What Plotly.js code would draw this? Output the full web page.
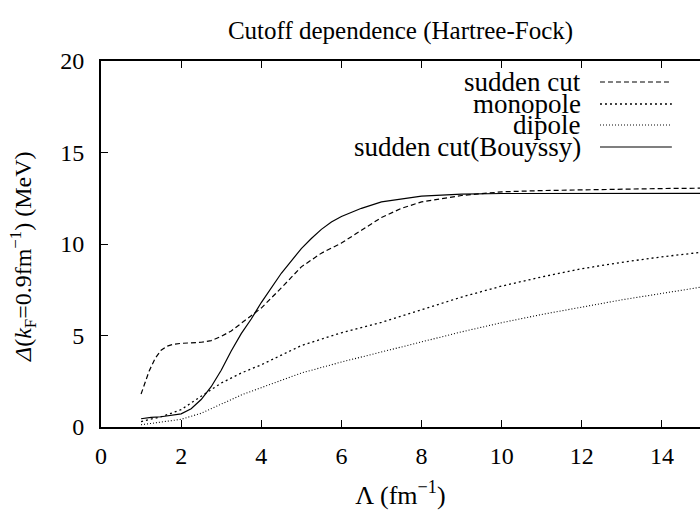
<!DOCTYPE html>
<html>
<head>
<meta charset="utf-8">
<script src="https://cdn.plot.ly/plotly-3.0.1.min.js"></script>
<style>html,body{margin:0;padding:0;background:#fff;}#chart{width:700px;height:514px;}</style>
</head>
<body>
<div id="chart"></div>
<script>
// Data
var seriesNames = ["sudden cut", "monopole", "dipole", "sudden cut(Bouyssy)"];

var suddenX = [1, 1.1, 1.2, 1.35, 1.5, 1.65, 1.8, 2.0, 2.25, 2.5, 2.75, 3.0, 3.25, 3.5, 3.75, 4.0, 4.5, 5.0, 5.5, 6.0, 6.5, 7.0, 7.5, 8.0, 9, 10, 11, 12, 13, 14, 15];
var suddenY = [1.8, 2.45, 3.05, 3.75, 4.2, 4.42, 4.52, 4.57, 4.6, 4.63, 4.72, 4.95, 5.25, 5.65, 6.05, 6.5, 7.6, 8.75, 9.5, 10.05, 10.75, 11.45, 11.95, 12.3, 12.65, 12.85, 12.92, 12.97, 13.0, 13.03, 13.05];

var monoX = [1, 1.25, 1.5, 1.75, 2, 2.5, 3, 3.5, 4, 5, 6, 7, 8, 9, 10, 11, 12, 13, 14, 15];
var monoY = [0.3, 0.42, 0.56, 0.75, 0.95, 1.68, 2.4, 2.95, 3.4, 4.45, 5.15, 5.72, 6.42, 7.1, 7.7, 8.2, 8.65, 9.0, 9.3, 9.55];

var dipoleX = [1, 1.5, 2, 2.5, 3, 3.5, 4, 5, 6, 7, 8, 9, 10, 11, 12, 13, 14, 15];
var dipoleY = [0.12, 0.25, 0.42, 0.75, 1.25, 1.75, 2.15, 2.95, 3.55, 4.1, 4.65, 5.2, 5.7, 6.15, 6.55, 6.95, 7.3, 7.65];

var bouyX = [1, 1.25, 1.5, 1.75, 2, 2.25, 2.5, 2.75, 3, 3.25, 3.5, 3.75, 4, 4.5, 5, 5.25, 5.5, 5.75, 6, 6.5, 7, 8, 9, 10, 11, 12, 13, 14, 15];
var bouyY = [0.45, 0.53, 0.56, 0.62, 0.72, 1.0, 1.5, 2.2, 3.1, 4.15, 5.1, 5.9, 6.8, 8.4, 9.75, 10.3, 10.8, 11.2, 11.5, 11.95, 12.3, 12.62, 12.72, 12.76, 12.77, 12.77, 12.77, 12.77, 12.77];

var xTicks = [0, 2, 4, 6, 8, 10, 12, 14];
var yTicks = [0, 5, 10, 15, 20];

var FONT = "Liberation Serif";
var dashes = ["5px,3px", "2px,3px", "1px,2px", "solid"];
var widths = [1.2, 1.3, 1.1, 1.2];

var xs = [suddenX, monoX, dipoleX, bouyX];
var ys = [suddenY, monoY, dipoleY, bouyY];

var traces = seriesNames.map(function (n, i) {
  return {
    x: xs[i], y: ys[i], name: n, type: "scatter", mode: "lines",
    line: {color: "#000", width: widths[i], dash: dashes[i]},
    showlegend: false, hoverinfo: "x+y+name"
  };
});

// manual legend (text on the left, sample line on the right), as in the reference
var legRowY = [0.9426, 0.8825, 0.8251, 0.765];
var annotations = [];
var shapes = [];
seriesNames.forEach(function (n, i) {
  annotations.push({
    xref: "paper", yref: "paper", x: 0.8047, y: legRowY[i],
    xanchor: "right", yanchor: "middle", showarrow: false,
    text: n, font: {family: FONT, size: 27, color: "#000"}
  });
  shapes.push({
    type: "line", xref: "paper", yref: "paper",
    x0: 0.833, x1: 0.953, y0: legRowY[i], y1: legRowY[i],
    line: {color: "#000", width: widths[i], dash: dashes[i]}
  });
});
annotations.push({
  xref: "paper", yref: "paper", x: -0.13, y: 0.465,
  xanchor: "center", yanchor: "middle", showarrow: false, textangle: -90,
  text: "<i>Δ</i>(<i>k</i><sub>F</sub>=0.9fm<sup>−1</sup>) (MeV)",
  font: {family: FONT, size: 24, color: "#000"}
});

var layout = {
  width: 700, height: 514,
  margin: {l: 101, r: 0, t: 61, b: 87, pad: 0},
  paper_bgcolor: "#fff", plot_bgcolor: "#fff",
  font: {family: FONT, size: 24, color: "#000"},
  title: {text: "Cutoff dependence (Hartree-Fock)", x: 0.5, xref: "paper", xanchor: "center",
          y: 1, yref: "container", yanchor: "top", pad: {t: 21},
          font: {family: FONT, size: 25, color: "#000"}},
  xaxis: {
    range: [0, 14.95], tickvals: xTicks, ticktext: xTicks.map(String),
    ticks: "inside", ticklen: 7, tickwidth: 1, tickcolor: "#000",
    showline: true, linewidth: 2, linecolor: "#000", mirror: "ticks",
    showgrid: false, zeroline: false, ticklabelstandoff: 6,
    tickfont: {family: FONT, size: 24, color: "#000"},
    title: {text: "Λ (fm<sup>−1</sup>)", standoff: 18, font: {family: FONT, size: 26, color: "#000"}}
  },
  yaxis: {
    range: [0, 20], tickvals: yTicks, ticktext: yTicks.map(String),
    ticks: "inside", ticklen: 7, tickwidth: 1, tickcolor: "#000",
    showline: true, linewidth: 2, linecolor: "#000", mirror: false,
    showgrid: false, zeroline: false, ticklabelstandoff: 10,
    tickfont: {family: FONT, size: 24, color: "#000"}
  },
  annotations: annotations,
  shapes: shapes,
  showlegend: false
};

Plotly.newPlot("chart", traces, layout, {displayModeBar: false, staticPlot: true});
</script>
</body>
</html>
